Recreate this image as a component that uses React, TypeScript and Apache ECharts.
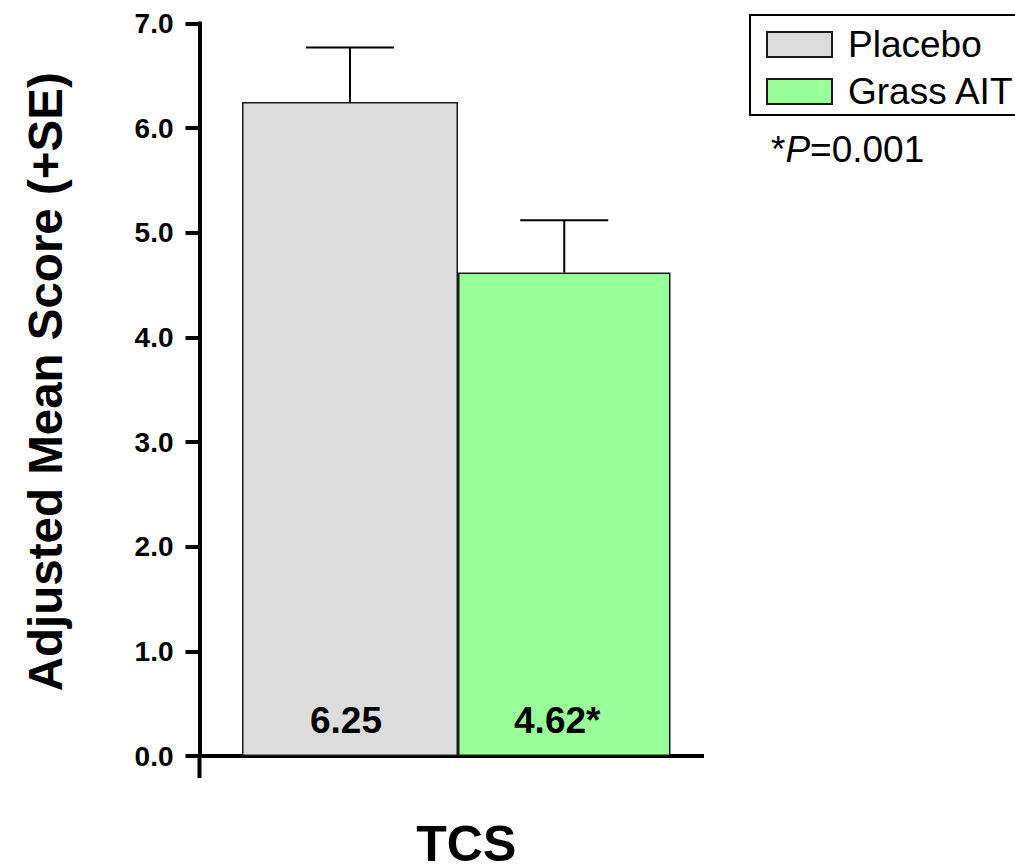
import React, { useEffect, useRef } from "react";
import * as echarts from "echarts";

// ---- data ----
const categories = ["TCS"];
const groups = ["Placebo", "Grass AIT"];
const means = [6.25, 4.62];
const standardErrors = [0.52, 0.5];
const significanceMarks = ["", "*"];
const yMin = 0;
const yMax = 7;
const yInterval = 1;
const pValueText = "0.001";

// ---- styles / layout ----
const FONT = "'Liberation Sans', Arial, Helvetica, sans-serif";
const barColors = ["#dcdcdc", "#99ff99"];
const barWidths = [216, 212.5];
const spacerWidth = 11;
const capHalf = 44;
const labelOffsets = [-4, -7];

export default function App() {
  const ref = useRef<HTMLDivElement>(null);

  useEffect(() => {
    if (!ref.current) return;
    const chart = echarts.init(ref.current, undefined, { renderer: "svg" });

    const totalWidth = spacerWidth + barWidths[0] + barWidths[1];
    const centerOffsets = barWidths.map((w, i) => {
      let x = -totalWidth / 2 + spacerWidth;
      for (let k = 0; k < i; k++) x += barWidths[k];
      return x + w / 2;
    });

    const barSeries = groups.map((g, i) => ({
      type: "bar",
      name: g,
      data: [means[i]],
      barWidth: barWidths[i],
      barGap: "0%",
      z: 2,
      itemStyle: { color: barColors[i], borderColor: "#1a1a1a", borderWidth: 1.5 },
      label: {
        show: true,
        position: "insideBottom",
        distance: 17,
        offset: [labelOffsets[i], 0],
        fontFamily: FONT,
        fontSize: 37,
        fontWeight: "bold",
        color: "#000",
        formatter: (p: any) => Number(p.value).toFixed(2) + significanceMarks[i],
      },
    }));

    const option: any = {
      animation: false,
      backgroundColor: "#fff",
      textStyle: { fontFamily: FONT },
      grid: {
        left: 199.5,
        right: 313,
        top: 23.5,
        bottom: 108,
        containLabel: false,
        outerBoundsMode: "none",
      },
      title: {
        left: 766,
        top: 126,
        text: "{n|*}{i|P}{n|=" + pValueText + "}",
        textStyle: {
          fontWeight: "normal",
          rich: {
            n: { fontFamily: FONT, fontSize: 37, fontWeight: "normal", color: "#000" },
            i: { fontFamily: FONT, fontSize: 37, fontStyle: "italic", fontWeight: "normal", color: "#000" },
          },
        },
      },
      legend: {
        data: groups,
        orient: "vertical",
        left: 750,
        top: 15,
        padding: [11, 24, 5, 16],
        itemGap: 10,
        itemWidth: 65,
        itemHeight: 25,
        icon: "rect",
        borderColor: "#000",
        borderWidth: 2,
        borderRadius: 0,
        itemStyle: { borderColor: "#1a1a1a", borderWidth: 2 },
        textStyle: { fontFamily: FONT, fontSize: 37, color: "#000", padding: [0, 0, 0, 11] },
      },
      xAxis: {
        type: "category",
        data: categories,
        axisLine: { lineStyle: { color: "#000", width: 4, cap: "square" } },
        axisTick: { show: false },
        axisLabel: {
          margin: 68,
          fontFamily: FONT,
          fontSize: 50,
          lineHeight: 40,
          fontWeight: "bold",
          color: "#000",
          padding: [0, 0, 0, 31],
        },
      },
      yAxis: {
        type: "value",
        min: yMin,
        max: yMax,
        interval: yInterval,
        name: "Adjusted Mean Score (+SE)",
        nameLocation: "middle",
        nameGap: 130,
        nameTextStyle: {
          fontFamily: FONT,
          fontSize: 47.5,
          fontWeight: "bold",
          color: "#000",
          padding: [0, 0, 0, 16],
        },
        splitLine: { show: false },
        axisLine: { show: true, lineStyle: { color: "#000", width: 4, cap: "square" } },
        axisTick: { show: true, length: 14, lineStyle: { color: "#000", width: 4 } },
        axisLabel: {
          margin: 26,
          fontFamily: FONT,
          fontSize: 28,
          fontWeight: "bold",
          color: "#000",
          formatter: (v: number) => v.toFixed(1),
        },
      },
      graphic: [
        {
          type: "line",
          shape: { x1: 199.5, y1: 756, x2: 199.5, y2: 778 },
          style: { stroke: "#000", lineWidth: 4 },
          z: 10,
        },
      ],
      series: [
        {
          type: "bar",
          name: "_spacer",
          data: ["-"],
          barWidth: spacerWidth,
          barGap: "0%",
          silent: true,
          itemStyle: { color: "transparent" },
        },
        ...barSeries,
        {
          type: "custom",
          name: "SE",
          z: 3,
          data: means.map((m, i) => [0, m, m + standardErrors[i], i]),
          renderItem: (params: any, api: any) => {
            const idx = api.value(3);
            const barTop = api.coord([api.value(0), api.value(1)]);
            const errTop = api.coord([api.value(0), api.value(2)]);
            const cx = barTop[0] + centerOffsets[idx];
            return {
              type: "group",
              children: [
                {
                  type: "line",
                  shape: { x1: cx, y1: barTop[1], x2: cx, y2: errTop[1] },
                  style: { stroke: "#000", lineWidth: 2 },
                },
                {
                  type: "line",
                  shape: { x1: cx - capHalf, y1: errTop[1], x2: cx + capHalf, y2: errTop[1] },
                  style: { stroke: "#000", lineWidth: 2 },
                },
              ],
            };
          },
        },
      ],
    };

    chart.setOption(option);
    return () => chart.dispose();
  }, []);

  return (
    <div
      ref={ref}
      style={{ position: "fixed", left: 0, top: 0, width: 1015, height: 864, background: "#fff" }}
    />
  );
}
